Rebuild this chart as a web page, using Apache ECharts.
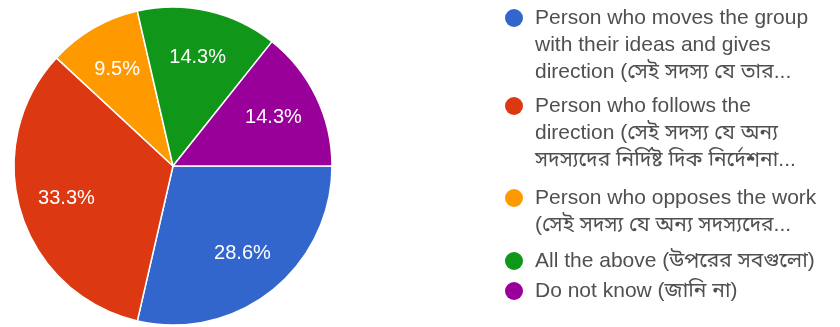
<!DOCTYPE html>
<html>
<head>
<meta charset="utf-8">
<script src="https://cdn.jsdelivr.net/npm/echarts@6/dist/echarts.min.js"></script>
<style>
  html, body { margin: 0; padding: 0; background: #ffffff; }
  #chart { width: 840px; height: 327px; }
</style>
</head>
<body>
<div id="chart"></div>
<script>
// Answer options (legend text, already wrapped as shown)
const categories = [
  'Person who moves the group\nwith their ideas and gives\ndirection (সেই সদস্য যে তার...',
  'Person who follows the\ndirection (সেই সদস্য যে অন্য\nসদস্যদের নির্দিষ্ট দিক নির্দেশনা...',
  'Person who opposes the work\n(সেই সদস্য যে অন্য সদস্যদের...',
  'All the above (উপরের সবগুলো)',
  'Do not know (জানি না)'
];
// Share of responses, percent
const shares = [28.6, 33.3, 9.5, 14.3, 14.3];
const colors = ['#3366cc', '#dc3912', '#ff9900', '#109618', '#990099'];

const FONT = "'Liberation Sans', Arial, 'Noto Sans Bengali', 'Noto Sans', sans-serif";
const LINE = 27;
// vertical centre of each legend entry's first line
const legendFirstLine = [18, 106, 198, 261, 291];

const pieData = categories.map((name, i) => ({
  name: name,
  value: shares[i],
  itemStyle: { color: colors[i] }
}));

// One legend per entry. Legend text is centred on its marker, so blank
// lines are put in front of multi-line entries to bring the marker level
// with the first line of text.
const legends = categories.map((name, i) => {
  const n = name.split('\n').length;
  return {
    orient: 'vertical',
    left: 505,
    top: legendFirstLine[i] - (2 * n - 1) * LINE / 2,
    padding: 0,
    icon: 'circle',
    itemWidth: 32,
    itemHeight: 18,
    selectedMode: false,
    itemStyle: { borderWidth: 0 },
    data: [name],
    formatter: (label) => '\n'.repeat(n - 1) + label,
    textStyle: {
      fontFamily: FONT,
      fontSize: 21,
      color: '#505050',
      lineHeight: LINE
    }
  };
});

const chart = echarts.init(document.getElementById('chart'), null, { renderer: 'canvas' });
chart.setOption({
  animation: false,
  backgroundColor: '#ffffff',
  legend: legends,
  series: [
    {
      type: 'pie',
      center: [173, 166],
      radius: 159,
      startAngle: 0,
      clockwise: true,
      label: { show: false },
      labelLine: { show: false },
      itemStyle: { borderColor: '#ffffff', borderWidth: 1.5 },
      emphasis: { disabled: true },
      data: pieData
    },
    {
      // percentage labels, placed at about 70% of the radius
      type: 'pie',
      center: [173, 166],
      radius: [58, 159],
      startAngle: 0,
      clockwise: true,
      silent: true,
      itemStyle: { color: 'rgba(0,0,0,0)' },
      emphasis: { disabled: true },
      labelLine: { show: false },
      label: {
        show: true,
        position: 'inside',
        formatter: '{c}%',
        color: '#ffffff',
        fontFamily: FONT,
        fontSize: 20
      },
      data: categories.map((name, i) => ({ name: name, value: shares[i] }))
    }
  ]
});
</script>
</body>
</html>
